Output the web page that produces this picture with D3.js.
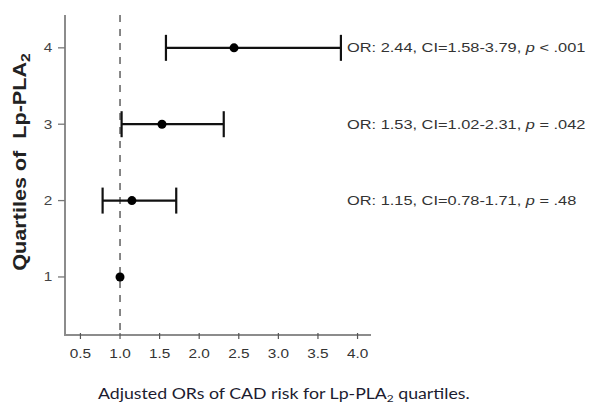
<!DOCTYPE html>
<html><head><meta charset="utf-8">
<script src="https://cdn.jsdelivr.net/npm/d3@7"></script>
<style>body{margin:0;background:#fff}svg{display:block}</style>
</head><body>
<svg id="c" width="595" height="415"></svg>
<script>
// ---- data ----
const quartiles = [1, 2, 3, 4];
const orValues  = [1.00, 1.15, 1.53, 2.44];
const ciLow     = [null, 0.78, 1.02, 1.58];
const ciHigh    = [null, 1.71, 2.31, 3.79];
const pOps      = [null, "=", "=", "<"];
const pVals     = [null, ".48", ".042", ".001"];
const xTicks    = [0.5, 1.0, 1.5, 2.0, 2.5, 3.0, 3.5, 4.0];
const yTicks    = [1, 2, 3, 4];
const refValue  = 1.0;
const yTitle    = "Quartiles of  Lp-PLA";
const caption   = "Adjusted ORs of CAD risk for Lp-PLA";

(function () {
// ---- layout ----
const svg = d3.select("#c");
const SX = 1.28; // horizontal stretch of text
const pLeft = 65, pRight = 371, pTop = 15, pBottom = 335;
const x = d3.scaleLinear().domain([0.305, 4.17]).range([pLeft, pRight]);
const y = d3.scaleLinear().domain([0.24, 4.43]).range([pBottom, pTop]);
const axisColor = "#8c8c8c";
const font = "'Liberation Sans', Arial, Helvetica, sans-serif";

// reference line
svg.append("line")
  .attr("x1", x(refValue)).attr("x2", x(refValue))
  .attr("y1", pTop).attr("y2", pBottom)
  .attr("stroke", "#6a6a6a").attr("stroke-width", 1.6)
  .attr("stroke-dasharray", "7,7");

// axes lines
svg.append("line").attr("x1", pLeft).attr("x2", pLeft).attr("y1", pTop).attr("y2", pBottom + 1)
  .attr("stroke", axisColor).attr("stroke-width", 2);
svg.append("line").attr("x1", pLeft - 1).attr("x2", pRight).attr("y1", pBottom).attr("y2", pBottom)
  .attr("stroke", axisColor).attr("stroke-width", 2);

// x ticks
const xg = svg.append("g");
xTicks.forEach(t => {
  xg.append("line").attr("x1", x(t)).attr("x2", x(t)).attr("y1", pBottom - 2).attr("y2", pBottom + 4)
    .attr("stroke", "#555").attr("stroke-width", 1.2);
  xg.append("text").attr("transform", `translate(${x(t)},${pBottom + 23}) scale(${SX},1)`)
    .attr("text-anchor", "middle").attr("font-family", font).attr("font-size", 12)
    .attr("fill", "#333").text(d3.format(".1f")(t));
});

// y ticks
const yg = svg.append("g");
yTicks.forEach(t => {
  yg.append("line").attr("x1", pLeft - 7).attr("x2", pLeft).attr("y1", y(t)).attr("y2", y(t))
    .attr("stroke", "#777").attr("stroke-width", 1.3);
  yg.append("text").attr("transform", `translate(${pLeft - 17},${y(t) + 4.5}) scale(${SX},1)`)
    .attr("text-anchor", "middle").attr("font-family", font).attr("font-size", 12)
    .attr("fill", "#444").text(t);
});

// whiskers
const capH = 13;
quartiles.forEach((q, i) => {
  if (ciLow[i] == null) return;
  const g = svg.append("g").attr("stroke", "#111").attr("stroke-width", 2.2);
  g.append("line").attr("x1", x(ciLow[i])).attr("x2", x(ciHigh[i])).attr("y1", y(q)).attr("y2", y(q));
  g.append("line").attr("x1", x(ciLow[i])).attr("x2", x(ciLow[i])).attr("y1", y(q) - capH).attr("y2", y(q) + capH);
  g.append("line").attr("x1", x(ciHigh[i])).attr("x2", x(ciHigh[i])).attr("y1", y(q) - capH).attr("y2", y(q) + capH);
});

// points
svg.selectAll("circle.pt").data(quartiles).enter().append("circle")
  .attr("class", "pt")
  .attr("cx", (q, i) => x(orValues[i])).attr("cy", q => y(q))
  .attr("r", 4.5).attr("fill", "#000");

// annotations
quartiles.forEach((q, i) => {
  if (ciLow[i] == null) return;
  const t = svg.append("text")
    .attr("transform", `translate(347,${y(q) + 4.5}) scale(${SX},1)`)
    .attr("font-family", font).attr("font-size", 12.8).attr("fill", "#333")
    .style("white-space", "pre");
  t.append("tspan").text(`OR: ${orValues[i].toFixed(2)}, CI=${ciLow[i].toFixed(2)}-${ciHigh[i].toFixed(2)}, `);
  t.append("tspan").attr("font-style", "italic").text("p");
  t.append("tspan").text(` ${pOps[i]} ${pVals[i]}`);
});

// y title
const yt = svg.append("text")
  .attr("transform", "translate(26,162) rotate(-90) scale(1.2,1)")
  .attr("text-anchor", "middle").attr("font-family", font).attr("font-weight", "bold")
  .attr("font-size", 18).attr("fill", "#222").style("white-space", "pre");
yt.append("tspan").text(yTitle);
yt.append("tspan").attr("font-size", 13).attr("dy", 4).text("2");

// caption
const cap = svg.append("text")
  .attr("font-family", "Lato, 'Open Sans', sans-serif").attr("font-size", 15)
  .attr("fill", "#1c1c30").attr("text-anchor", "start").style("white-space", "pre");
cap.append("tspan").text(caption);
cap.append("tspan").attr("font-size", 10).attr("dy", 3).text("2");
cap.append("tspan").attr("dy", -3).text(" quartiles.");
const w = cap.node().getComputedTextLength();
const target = 372, sc = target / w;
cap.attr("transform", `translate(${284 - target / 2},399) scale(${sc},1)`);
})();
</script>
</body></html>
